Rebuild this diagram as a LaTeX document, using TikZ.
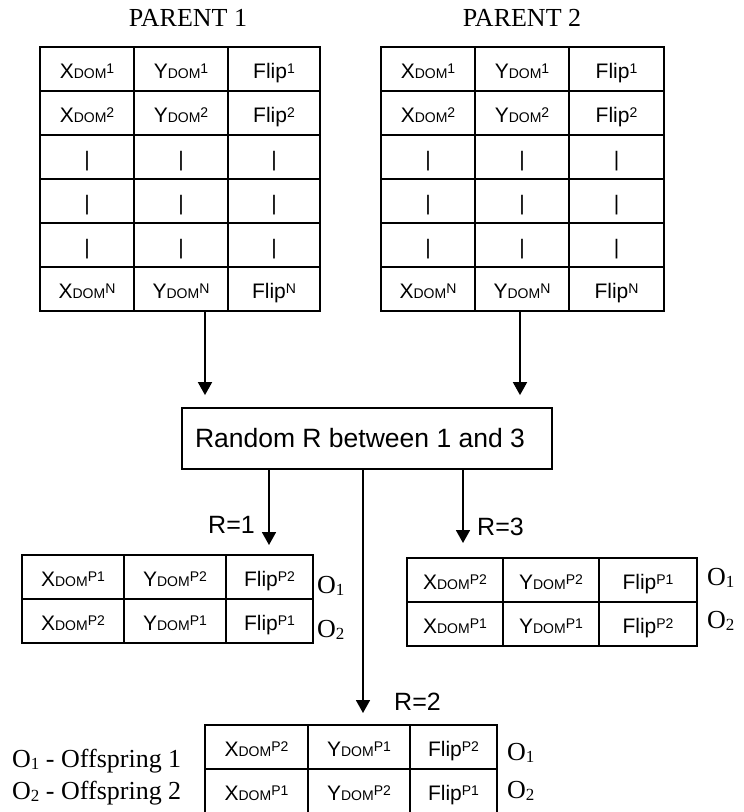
\documentclass[tikz,border=0pt]{standalone}
\usepackage{fontspec}
\setmainfont{Liberation Serif}
\newfontfamily\arialfam{Liberation Sans}
\usetikzlibrary{arrows.meta}

% cell text: gene name with subscript DOM and a superscript index
\newcommand\cellfont{\arialfam\fontsize{21}{21}\selectfont}
\newcommand\scriptfnt{\fontsize{14}{14}\selectfont}
\newcommand\dom[2]{#1\raisebox{-0.5pt}{\scriptfnt DOM}\raisebox{5pt}{\scriptfnt #2}}
\newcommand\flp[1]{Flip\raisebox{5pt}{\scriptfnt #1}}
\newcommand\off[1]{O\raisebox{-2pt}{\fontsize{17}{17}\selectfont #1}}

% one table row of three cells: name, top y, four column edges, three texts
\newcommand\trow[9]{%
  \node[cellbox, minimum width={#4pt-#3pt}] (#1-1) at (#3,#2) {#7};
  \node[cellbox, minimum width={#5pt-#4pt}] (#1-2) at (#4,#2) {#8};
  \node[cellbox, minimum width={#6pt-#5pt}] (#1-3) at (#5,#2) {#9};
}

\begin{document}
\begin{tikzpicture}[x=1pt,y=-1pt,
  cellbox/.style={draw, line width=1.8pt, inner sep=0pt, outer sep=0pt,
    minimum height=44pt, text height=22pt, text depth=4pt,
    anchor=north west, font=\cellfont},
  arr/.style={line width=1.8pt, -{Triangle[length=13pt,width=14pt]}, shorten >=12pt},
  rlabel/.style={font=\arialfam\fontsize{25}{25}\selectfont, anchor=base west, inner sep=0pt},
  olabel/.style={font=\fontsize{26}{26}\selectfont, anchor=base west, inner sep=0pt},
  title/.style={font=\fontsize{26}{26}\selectfont, anchor=base, inner sep=0pt},
]
\useasboundingbox (0,0) rectangle (744,812);

% parent chromosomes
\node[title] (t1) at (188,26) {PARENT 1};
\node[title] (t2) at (522,26) {PARENT 2};

\trow{p1a}{47}{40}{134}{228}{320}{\dom{X}{1}}{\dom{Y}{1}}{\flp{1}}
\trow{p1b}{91}{40}{134}{228}{320}{\dom{X}{2}}{\dom{Y}{2}}{\flp{2}}
\trow{p1c}{135}{40}{134}{228}{320}{|}{|}{|}
\trow{p1d}{179}{40}{134}{228}{320}{|}{|}{|}
\trow{p1e}{223}{40}{134}{228}{320}{|}{|}{|}
\trow{p1f}{267}{40}{134}{228}{320}{\dom{X}{N}}{\dom{Y}{N}}{\flp{N}}

\trow{p2a}{47}{381}{475}{569}{664}{\dom{X}{1}}{\dom{Y}{1}}{\flp{1}}
\trow{p2b}{91}{381}{475}{569}{664}{\dom{X}{2}}{\dom{Y}{2}}{\flp{2}}
\trow{p2c}{135}{381}{475}{569}{664}{|}{|}{|}
\trow{p2d}{179}{381}{475}{569}{664}{|}{|}{|}
\trow{p2e}{223}{381}{475}{569}{664}{|}{|}{|}
\trow{p2f}{267}{381}{475}{569}{664}{\dom{X}{N}}{\dom{Y}{N}}{\flp{N}}

% random choice
\node[draw, line width=1.8pt, minimum width=370pt, minimum height=61pt,
  inner sep=0pt, text height=20pt, text depth=3pt,
  font=\arialfam\fontsize{26.5}{26.5}\selectfont] (box) at (367,438.5)
  {\hspace*{-14pt}Random R between 1 and 3};

% offspring for R=1
\trow{r1a}{555}{22}{124}{226}{313}{\dom{X}{P1}}{\dom{Y}{P2}}{\flp{P2}}
\trow{r1b}{599}{22}{124}{226}{313}{\dom{X}{P2}}{\dom{Y}{P1}}{\flp{P1}}
\node[olabel] (o11) at (317,593) {\off{1}};
\node[olabel] (o12) at (317,637) {\off{2}};

% offspring for R=3
\trow{r3a}{558}{407}{503}{599}{697}{\dom{X}{P2}}{\dom{Y}{P2}}{\flp{P1}}
\trow{r3b}{602}{407}{503}{599}{697}{\dom{X}{P1}}{\dom{Y}{P1}}{\flp{P2}}
\node[olabel] (o31) at (707,585) {\off{1}};
\node[olabel] (o32) at (707,628) {\off{2}};

% offspring for R=2
\trow{r2a}{725}{205}{308}{410}{497}{\dom{X}{P2}}{\dom{Y}{P1}}{\flp{P2}}
\trow{r2b}{769}{205}{308}{410}{497}{\dom{X}{P1}}{\dom{Y}{P2}}{\flp{P1}}
\node[olabel] (o21) at (507,760) {\off{1}};
\node[olabel] (o22) at (507,798) {\off{2}};

% legend
\node[olabel] (leg1) at (12,767) {\off{1} - Offspring 1};
\node[olabel] (leg2) at (12,799) {\off{2} - Offspring 2};

% connectors
\coordinate (a1) at (205,0);
\coordinate (a2) at (520,0);
\coordinate (b1) at (269,0);
\coordinate (b2) at (363,0);
\coordinate (b3) at (463,0);

\draw[arr] (p1f-2.south -| a1) -- (box.north -| a1);
\draw[arr] (p2f-2.south -| a2) -- (box.north -| a2);
\draw[arr, shorten >=10pt] (box.south -| b1) -- (r1a-3.north -| b1);
\draw[arr, shorten >=15pt] (box.south -| b3) -- (r3a-1.north -| b3);
\draw[arr] (box.south -| b2) -- (r2a-2.north -| b2);

\node[rlabel] (lr1) at (208,533) {R=1};
\node[rlabel] (lr3) at (477,535) {R=3};
\node[rlabel] (lr2) at (394,710) {R=2};
\end{tikzpicture}
\end{document}
